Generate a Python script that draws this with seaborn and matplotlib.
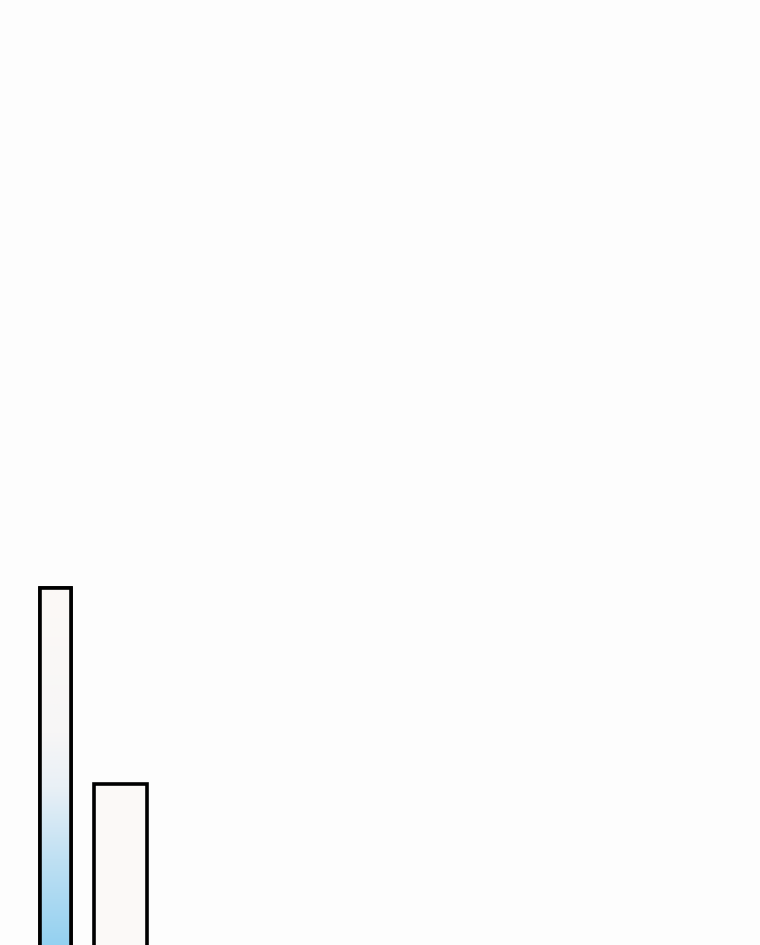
import numpy as np
import pandas as pd
import matplotlib
matplotlib.use("Agg")
import matplotlib.pyplot as plt
import seaborn as sns
from matplotlib.colors import LinearSegmentedColormap
from matplotlib.patches import Rectangle

categories = ["A", "B"]
values = [100, 46]
bar_widths = [0.48, 0.82]
fill_colors = ["#fcf9f6", "#fcf9f6"]

sns.set_theme(style="white")
fig = plt.figure(figsize=(7.6, 9.455), dpi=100, facecolor="#fdfdfd")
ax = fig.add_axes([0, 0, 1, 1])
ax.set_facecolor("#fdfdfd")

df = pd.DataFrame({"cat": categories, "val": values})
sns.barplot(data=df, x="cat", y="val", ax=ax, palette=fill_colors, hue="cat",
            legend=False, edgecolor="black", linewidth=2.6, width=0.8)

# adjust widths per bar
for p, w in zip(ax.patches, bar_widths):
    c = p.get_x() + p.get_width() / 2
    p.set_x(c - w / 2)
    p.set_width(w)

# gradient on the first bar
grad_cmap = LinearSegmentedColormap.from_list(
    "g", [(0.0, "#92d0f0"), (0.25, "#bfe0f3"), (0.45, "#e9f0f6"), (0.6, "#f7f6f6"), (1.0, "#fcf9f6")])
p0 = ax.patches[0]
x0, y0 = p0.get_x(), p0.get_y()
grad = np.linspace(0, 1, 256).reshape(-1, 1)
im = ax.imshow(grad, cmap=grad_cmap, origin="lower", aspect="auto",
               extent=[x0, x0 + p0.get_width(), y0, y0 + p0.get_height()],
               zorder=p0.get_zorder() + 0.1)
im.set_clip_path(p0)
ax.add_patch(Rectangle((x0, y0), p0.get_width(), p0.get_height(), fill=False,
                       edgecolor="black", linewidth=2.6, zorder=im.get_zorder() + 0.1))

ax.set_xlim(-0.853, 10.84)
ax.set_ylim(1.3, 263)
ax.axis("off")

fig.savefig("out.png", dpi=100, facecolor=fig.get_facecolor())
